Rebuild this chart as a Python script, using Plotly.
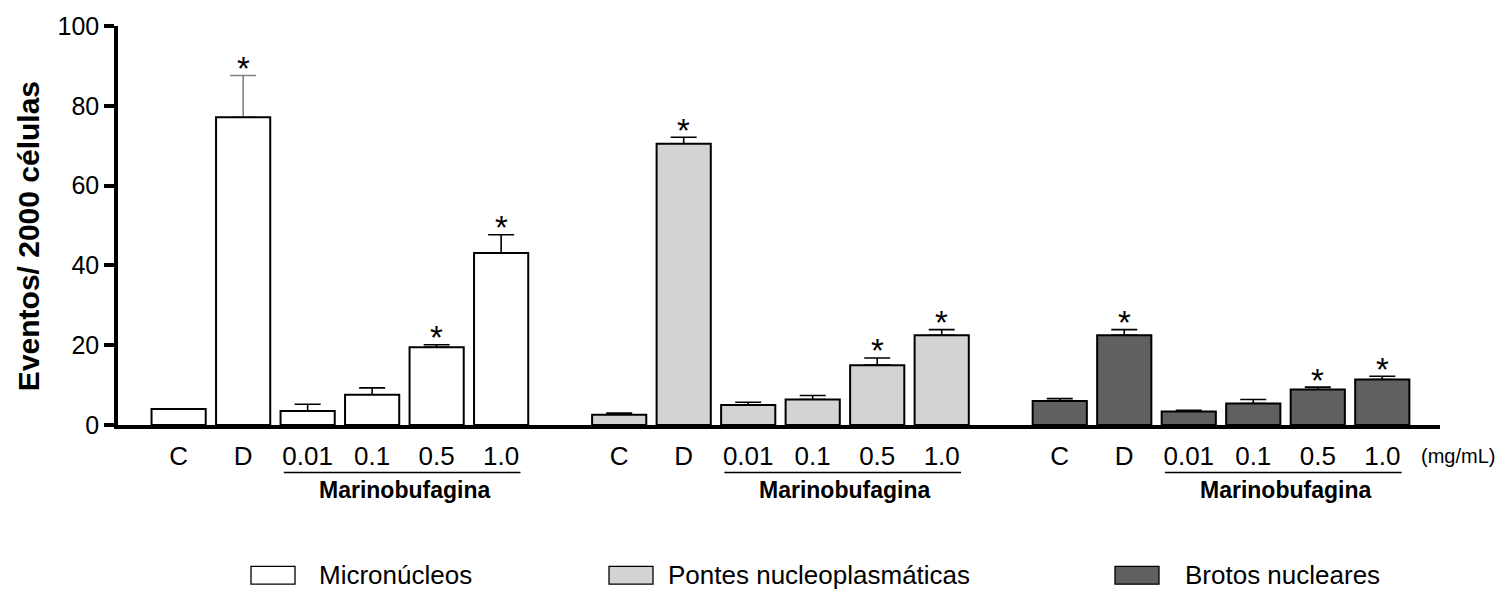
import plotly.graph_objects as go

# ---------------- data ----------------
categories = ["C", "D", "0.01", "0.1", "0.5", "1.0"]
series_names = ["Micronúcleos", "Pontes nucleoplasmáticas", "Brotos nucleares"]

micronucleos = [4.0, 77.1, 3.5, 7.6, 19.5, 43.1]
micronucleos_err = [0.0, 10.5, 1.7, 1.7, 0.6, 4.6]
micronucleos_sig = [False, True, False, False, True, True]

pontes = [2.6, 70.5, 5.0, 6.4, 15.0, 22.5]
pontes_err = [0.4, 1.6, 0.7, 1.0, 1.8, 1.4]
pontes_sig = [False, True, False, False, True, True]

brotos = [6.0, 22.5, 3.4, 5.4, 8.9, 11.4]
brotos_err = [0.6, 1.4, 0.3, 1.0, 0.6, 0.8]
brotos_sig = [False, True, False, False, True, True]

y_ticks = [0, 20, 40, 60, 80, 100]
y_title = "Eventos/ 2000 células"
group_label = "Marinobufagina"
unit_label = "(mg/mL)"

values = [micronucleos, pontes, brotos]
errors = [micronucleos_err, pontes_err, brotos_err]
sigs = [micronucleos_sig, pontes_sig, brotos_sig]

# ---------------- style / layout ----------------
W, H = 1508, 594
ML, MR, MT, MB = 118, 68, 21.5, 169
PW, PH = W - ML - MR, H - MT - MB
FONT = "Liberation Sans, Arial, sans-serif"
fills = ["#ffffff", "#d3d3d3", "#606060"]
GROUP_STEP = 6.83
BAR_W = 0.84
X_RANGE = [-0.94, 19.555]
err_color_default = "#000000"
err_color_override = {(0, "D"): "#808080"}


def px_x(px):
    return (px - ML) / PW


def px_y(py):
    return (H - MB - py) / PH


def xpos(g, i):
    return g * GROUP_STEP + i


fig = go.Figure()

# invisible bars carrying error bars (drawn first so the real bars cover their base)
for g in range(3):
    groups = {}
    for i, cat in enumerate(categories):
        col = err_color_override.get((g, cat), err_color_default)
        groups.setdefault(col, []).append(i)
    for col, idx in groups.items():
        fig.add_trace(go.Bar(
            x=[xpos(g, i) for i in idx],
            y=[values[g][i] for i in idx],
            width=BAR_W,
            marker=dict(color="rgba(0,0,0,0)", line=dict(width=0)),
            error_y=dict(type="data", symmetric=False,
                         array=[errors[g][i] for i in idx],
                         arrayminus=[0] * len(idx),
                         color=col, thickness=1.6, width=13),
            showlegend=False, hoverinfo="skip",
        ))

for g in range(3):
    fig.add_trace(go.Bar(
        x=[xpos(g, i) for i in range(len(categories))],
        y=values[g],
        width=BAR_W,
        name=series_names[g],
        marker=dict(color=fills[g], line=dict(color="#000000", width=2)),
        showlegend=False,
    ))

annotations = []
shapes = []

# asterisks
for g in range(3):
    for i, s in enumerate(sigs[g]):
        if s:
            annotations.append(dict(
                x=xpos(g, i), y=values[g][i] + errors[g][i], xref="x", yref="y",
                text="*", showarrow=False, yanchor="middle", yshift=7,
                font=dict(family=FONT, size=33, color="#000000")))

# underlines + group labels
for g in range(3):
    x0 = xpos(g, 1.63)
    x1 = xpos(g, 5.30)
    shapes.append(dict(type="line", xref="x", yref="paper", x0=x0, x1=x1,
                       y0=px_y(473), y1=px_y(473),
                       line=dict(color="#000000", width=1.5)))
    annotations.append(dict(
        x=(x0 + x1) / 2, y=px_y(491), xref="x", yref="paper", xshift=2,
        text="<b>%s</b>" % group_label, showarrow=False,
        xanchor="center", yanchor="middle",
        font=dict(family=FONT, size=23, color="#000000")))

# unit label
annotations.append(dict(
    x=px_x(1419), y=px_y(456), xref="paper", yref="paper",
    text=unit_label, showarrow=False, xanchor="left", yanchor="middle",
    font=dict(family=FONT, size=20, color="#000000")))

# y title
annotations.append(dict(
    x=px_x(28), y=px_y(234), xref="paper", yref="paper",
    text="<b>%s</b>" % y_title, showarrow=False, textangle=-90,
    xanchor="center", yanchor="middle",
    font=dict(family=FONT, size=30, color="#000000")))

# legend (manual)
legend_box_left = [251, 609, 1115]
legend_text_left = [317, 666, 1183]
LEG_Y = 577
for g in range(3):
    shapes.append(dict(type="rect", xref="paper", yref="paper",
                       x0=px_x(legend_box_left[g]), x1=px_x(legend_box_left[g] + 44),
                       y0=px_y(LEG_Y + 9), y1=px_y(LEG_Y - 9),
                       fillcolor=fills[g], line=dict(color="#000000", width=1.3)))
    annotations.append(dict(
        x=px_x(legend_text_left[g]), y=px_y(LEG_Y), xref="paper", yref="paper",
        text=series_names[g], showarrow=False, xanchor="left", yanchor="middle",
        font=dict(family=FONT, size=26, color="#000000")))

tickvals = [xpos(g, i) for g in range(3) for i in range(len(categories))]
ticktext = [c for g in range(3) for c in categories]

fig.update_layout(
    width=W, height=H,
    margin=dict(l=ML, r=MR, t=MT, b=MB, pad=0),
    paper_bgcolor="#ffffff", plot_bgcolor="#ffffff",
    barmode="overlay",
    showlegend=False,
    font=dict(family=FONT, color="#000000"),
    xaxis=dict(range=X_RANGE, showgrid=False, zeroline=False,
               showline=True, linecolor="#000000", linewidth=3.5,
               tickmode="array", tickvals=tickvals, ticktext=ticktext,
               ticks="outside", ticklen=5, tickwidth=0, tickcolor="rgba(0,0,0,0)",
               tickfont=dict(family=FONT, size=26, color="#000000")),
    yaxis=dict(range=[0, 100], showgrid=False, zeroline=False,
               showline=True, linecolor="#000000", linewidth=3.5,
               tickmode="array", tickvals=y_ticks,
               ticks="outside", ticklen=10, tickwidth=3.5, tickcolor="#000000",
               tickfont=dict(family=FONT, size=25, color="#000000")),
    annotations=annotations,
    shapes=shapes,
)

fig.write_html("out.html")
